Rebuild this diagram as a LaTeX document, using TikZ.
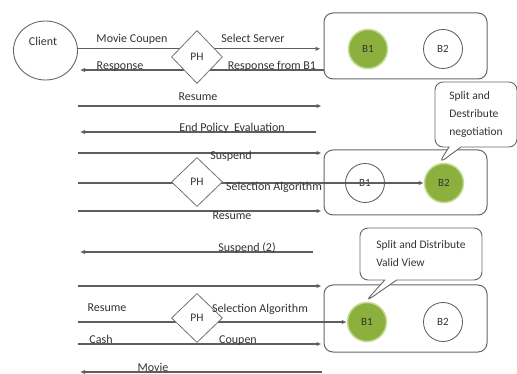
\documentclass[tikz,border=0pt]{standalone}
\usepackage{fontspec}
\setmainfont{Carlito}
\usetikzlibrary{shapes.geometric,shapes.callouts,arrows.meta}
\definecolor{lineg}{HTML}{5E5E5E}
\definecolor{txtg}{HTML}{333333}
\definecolor{bgreen}{HTML}{8CB03E}
\definecolor{rimg}{HTML}{C3DB93}
\begin{document}
\begin{tikzpicture}[x=1pt,y=-1pt,
  lbl/.style={font=\fontsize{12}{14}\selectfont, text=txtg, inner sep=1pt},
  flow/.style={draw=lineg, line width=1.1pt},
  arr/.style={flow, -{Latex[length=5pt,width=4.5pt]}},
  ph/.style={diamond, draw=black!55, fill=white, line width=0.8pt, aspect=1,
    minimum width=51pt, minimum height=53pt, inner sep=0pt,
    font=\fontsize{11.5}{13}\selectfont, text=txtg},
  srv/.style={draw=black!60, line width=1pt, rounded corners=9pt, minimum width=163pt},
  bw/.style={circle, draw=black!65, fill=white, line width=0.8pt, minimum size=39pt, inner sep=0pt,
    font=\fontsize{11}{13}\selectfont, text=txtg},
  bg/.style={circle, draw=rimg, fill=bgreen, line width=1.5pt, minimum size=39pt, inner sep=0pt,
    font=\fontsize{11}{13}\selectfont, text=black!80},
  co/.style={rectangle callout, draw=black!60, fill=white, line width=0.9pt, rounded corners=8pt,
    callout pointer width=12pt, align=left, inner sep=0pt,
    font=\fontsize{11.5}{18}\selectfont, text=txtg}
]
\useasboundingbox (0,0) rectangle (517,374);
\fill[white] (0,0) rectangle (517,374);

% client
\node[ellipse, draw=black!60, line width=0.9pt, minimum width=64pt, minimum height=59pt, inner sep=0pt] (client) at (45.5,50.5) {};
\node[lbl] (tclient) at (43,41) {Client};

% server boxes
\node[srv, minimum height=66pt] (box1) at (405.5,46) {};
\node[srv, minimum height=65pt] (box2) at (405.5,182.5) {};
\node[srv, minimum height=67pt] (box3) at (405.5,318.5) {};

% servers
\node[bg] (b1a) at (368,49) {B1};
\node[bw] (b2a) at (443,49) {B2};
\node[bw] (b1b) at (365,183) {B1};
\node[bg] (b2b) at (444,183) {B2};
\node[bg] (b1c) at (367,322) {B1};
\node[bw] (b2c) at (443,322) {B2};

% free ends
\coordinate (e2) at (80,70);
\coordinate (s3) at (78,106);
\coordinate (e4) at (80,132);
\coordinate (f4) at (316,132);
\coordinate (s5) at (78,153);
\coordinate (s6) at (78,183);
\coordinate (s7) at (78,211);
\coordinate (e8) at (80,252);
\coordinate (f8) at (313,252);
\coordinate (s9) at (78,286);
\coordinate (s10) at (78,322);
\coordinate (s11) at (78,344);
\coordinate (e12) at (80,372);
\coordinate (f12) at (322,372);

% connectors
\draw[arr, shorten >=3pt] (client.3) -- (client.3 -| box1.west);
\draw[arr] (e2 -| box1.west) -- (e2);
\draw[arr, shorten >=2pt] (s3) -- (s3 -| box1.west);
\draw[arr] (f4) -- (e4);
\draw[arr, shorten >=2pt] (s5) -- (s5 -| box2.west);
\draw[arr] (s6) -- (b2b.west);
\draw[arr, shorten >=2pt] (s7) -- (s7 -| box2.west);
\draw[arr] (f8) -- (e8);
\draw[arr, shorten >=2pt] (s9) -- (s9 -| box3.west);
\draw[arr] (s10) -- (b1c.west);
\draw[arr, shorten >=2pt] (s11) -- (s11 -| box3.west);
\draw[arr] (f12) -- (e12);

% PH diamonds
\node[ph] (ph1) at (197,57) {PH};
\node[ph, minimum height=49pt] (ph2) at (197,182) {PH};
\node[ph, minimum height=49pt] (ph3) at (197,318) {PH};

% labels
\node[lbl] (t1) at (132,39) {Movie Coupen};
\node[lbl] (t2) at (253,38) {Select Server};
\node[lbl, anchor=base] (t3) at (120,69.5) {Response};
\node[lbl, anchor=base] (t4) at (272,69.5) {Response from B1};
\node[lbl] (t5) at (198,97) {Resume};
\node[lbl, anchor=base] (t6) at (232,131.5) {End Policy\ \ Evaluation};
\node[lbl] (t7) at (231,156) {Suspend};
\node[lbl] (t8) at (274,187) {Selection Algorithm};
\node[lbl] (t9) at (232,216) {Resume};
\node[lbl, anchor=base] (t10) at (247,251.5) {Suspend (2)};
\node[lbl] (t11) at (107,308) {Resume};
\node[lbl] (t12) at (260,309) {Selection Algorithm};
\node[lbl, anchor=base] (t13) at (101,343.5) {Cash};
\node[lbl, anchor=base] (t14) at (238,343.5) {Coupen};
\node[lbl] (t15) at (153,367) {Movie};

% callouts
\node[co, minimum width=82pt, minimum height=65pt, callout absolute pointer={(b2b.105)}] (c1) at (476,114.5)
  {Split and\\Destribute\\negotiation};
\node[co, minimum width=122pt, minimum height=52pt, callout absolute pointer={(b1c.95)}] (c2) at (421,254)
  {Split and Distribute\\Valid View};
\end{tikzpicture}
\end{document}
